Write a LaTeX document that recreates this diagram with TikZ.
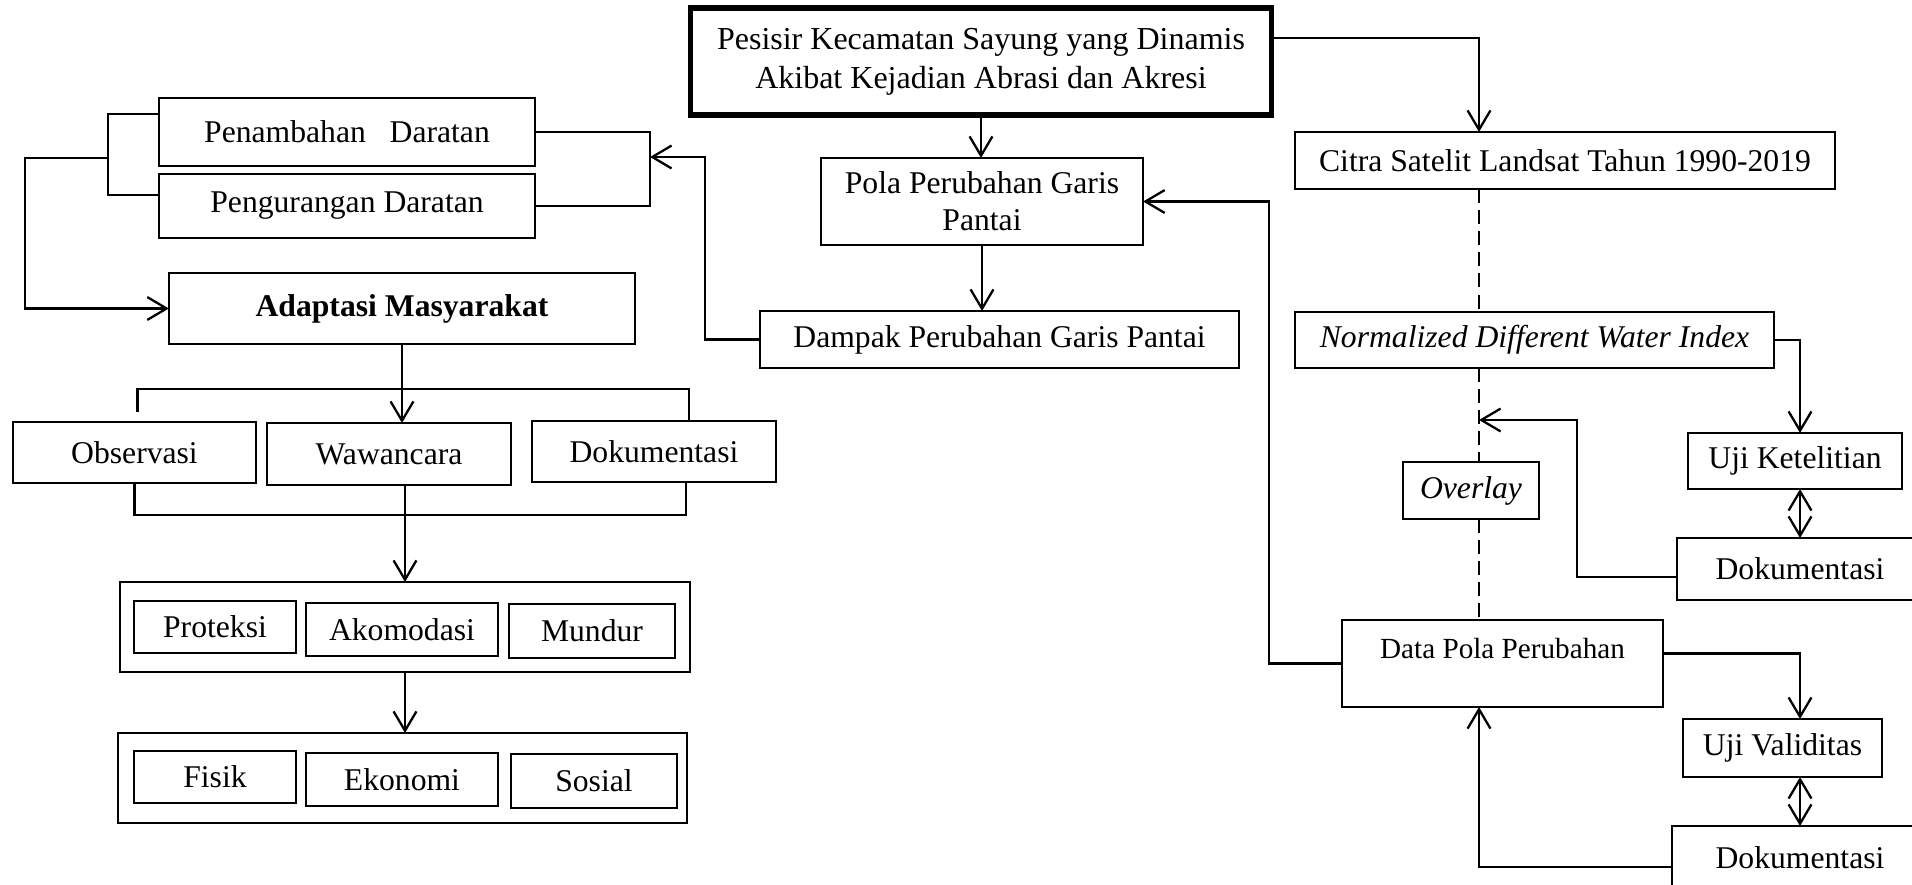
\documentclass[tikz,border=0pt]{standalone}
\usepackage{fontspec}
\setmainfont{Liberation Serif}
\usetikzlibrary{arrows.meta,calc}
\begin{document}
\begin{tikzpicture}[x=0.01cm,y=-0.01cm,inner sep=0pt,outer sep=0pt,line width=0.65pt,
>={Straight Barb[length=5.5pt,width=6.5pt]},
block/.style={draw,rectangle,line width=0.65pt,font=\fontsize{9}{10.5}\selectfont,align=center},
dashline/.style={dash pattern=on 4pt off 2pt}]
\useasboundingbox (0,0) rectangle (1912,885);
\clip (0,0) rectangle (1912,885);
\draw (981,61.5) node[block,line width=1.5pt,minimum width=5.8cm,minimum height=1.07cm,font=\fontsize{9.1}{11}\selectfont] (pesisir) {Pesisir Kecamatan Sayung yang Dinamis\\Akibat Kejadian Abrasi dan Akresi};
\draw (347,132) node[block,minimum width=3.76cm,minimum height=0.68cm] (penambahan) {Penambahan~~~Daratan};
\draw (347,206) node[block,minimum width=3.76cm,minimum height=0.64cm] (pengurangan) {Pengurangan Daratan};
\draw (402,308.5) node[block,minimum width=4.66cm,minimum height=0.71cm] (adaptasi) {\bfseries Adaptasi Masyarakat};
\draw (134.5,452.5) node[block,minimum width=2.43cm,minimum height=0.61cm] (observasi) {Observasi};
\draw (389,454) node[block,minimum width=2.44cm,minimum height=0.62cm] (wawancara) {Wawancara};
\draw (654,451.5) node[block,minimum width=2.44cm,minimum height=0.61cm] (dokA) {Dokumentasi};
\draw (405,627) node[block,minimum width=5.7cm,minimum height=0.9cm] (group1) {};
\draw (215,627) node[block,minimum width=1.62cm,minimum height=0.52cm] (proteksi) {Proteksi};
\draw (402,629.5) node[block,minimum width=1.92cm,minimum height=0.53cm] (akomodasi) {Akomodasi};
\draw (592,631) node[block,minimum width=1.66cm,minimum height=0.54cm] (mundur) {Mundur};
\draw (402.5,778) node[block,minimum width=5.69cm,minimum height=0.9cm] (group2) {};
\draw (215,777) node[block,minimum width=1.62cm,minimum height=0.52cm] (fisik) {Fisik};
\draw (402,779.5) node[block,minimum width=1.92cm,minimum height=0.53cm] (ekonomi) {Ekonomi};
\draw (594,781) node[block,minimum width=1.66cm,minimum height=0.54cm] (sosial) {Sosial};
\draw (982,201.5) node[block,minimum width=3.22cm,minimum height=0.87cm] (pola) {Pola Perubahan Garis\\Pantai};
\draw (999.5,339.5) node[block,minimum width=4.79cm,minimum height=0.57cm] (dampak) {Dampak Perubahan Garis Pantai};
\draw (1565,160.5) node[block,minimum width=5.4cm,minimum height=0.57cm] (citra) {Citra Satelit Landsat Tahun 1990-2019};
\draw (1534.5,340) node[block,minimum width=4.79cm,minimum height=0.56cm] (ndwi) {\itshape Normalized Different Water Index};
\draw (1471,490.5) node[block,minimum width=1.36cm,minimum height=0.57cm] (overlay) {\itshape Overlay};
\draw (1795,461) node[block,minimum width=2.14cm,minimum height=0.56cm] (ujiK) {Uji Ketelitian};
\draw (1800,569) node[block,minimum width=2.46cm,minimum height=0.62cm] (dokB) {Dokumentasi};
\draw (1502.5,663.5) node[block,minimum width=3.21cm,text height=0.3cm,text depth=0.4cm,inner ysep=0.085cm,font=\fontsize{8.3}{10}\selectfont] (dataPola) {Data Pola Perubahan};
\draw (1782.5,748) node[block,minimum width=1.99cm,minimum height=0.58cm] (ujiV) {Uji Validitas};
\draw (1800,858) node[block,minimum width=2.56cm,minimum height=0.64cm] (dokC) {Dokumentasi};
\coordinate (spine) at (1479,0);
\coordinate (ndwiJoin) at (1479,420);
\coordinate (brkR) at (650,157);
\coordinate (brkL) at (108,158);
\draw[->] (pesisir.south) -- (pesisir.south |- pola.north);
\draw[->] (pola.south) -- (pola.south |- dampak.north);
\draw (penambahan.east) -- ++(115,0) |- (pengurangan.east);
\draw[->] (dampak.west) -- ++(-55,0) |- (brkR);
\draw ($(penambahan.west)+(0,-18)$) -- ++(-51,0) |- ($(pengurangan.west)+(0,-11)$);
\draw[->] (brkL) -- ++(-83,0) |- (adaptasi.west);
\draw[->] (adaptasi.south) -- (adaptasi.south |- wawancara.north);
\draw ($(observasi.north)+(3,-10)$) |- ($(dokA.north)+(35,-32)$) -- ($(dokA.north)+(35,0)$);
\draw (observasi.south) -- ++(0,32) -| ($(dokA.south)+(32,0)$);
\draw[->] (group1.north |- wawancara.south) -- (group1.north);
\draw[->] (group1.south) -- (group1.south |- group2.north);
\draw[->] ($(pesisir.east)+(0,-23.5)$) -| (citra.north -| spine);
\draw[dashline] (citra.south -| spine) -- (ndwi.north -| spine);
\draw[dashline] (ndwi.south -| spine) -- (overlay.north -| spine);
\draw[dashline] (overlay.south -| spine) -- (dataPola.north -| spine);
\draw[->] ($(ndwi.east)+(0,-9)$) -- (ndwi.east) -| (dokB.north |- ujiK.north);
\draw[<->] (dokB.north |- ujiK.south) -- (dokB.north);
\draw[->] ($(dokB.west)+(0,8)$) -- ++(-100,0) |- (ndwiJoin);
\draw[->] ($(dataPola.east)+(0,-10)$) -| (dokC.north |- ujiV.north);
\draw[<->] (dokC.north |- ujiV.south) -- (dokC.north);
\draw[->] ($(dokC.west)+(0,9)$) -| (dataPola.south -| spine);
\draw[->] (dataPola.west) -- ++(-73,0) |- (pola.east);
\end{tikzpicture}
\end{document}
